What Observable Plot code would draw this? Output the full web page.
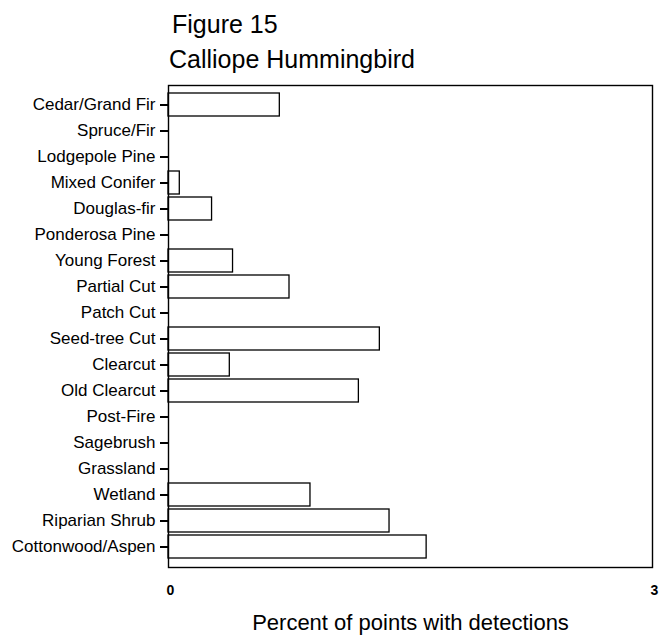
<!DOCTYPE html>
<html>
<head>
<meta charset="utf-8">
<script src="https://cdn.jsdelivr.net/npm/d3@7"></script>
<script src="https://cdn.jsdelivr.net/npm/@observablehq/plot@0.6"></script>
<style>
  html, body { margin: 0; padding: 0; background: #fff; }
  body { width: 663px; height: 638px; overflow: hidden; font-family: "Liberation Sans", Arial, sans-serif; color: #000; }
  #head { position: relative; height: 80px; }
  #fig, #title { position: absolute; font-size: 25px; line-height: 1; white-space: nowrap; }
  #fig { left: 172px; top: 12px; }
  #title { left: 169px; top: 47px; }
</style>
</head>
<body>
<div id="head"><div id="fig"></div><div id="title"></div></div>
<div id="chart"></div>
<script>
const figureLabel = "Figure 15";
const chartTitle = "Calliope Hummingbird";
const xLabel = "Percent of points with detections";
const habitats = ["Cedar/Grand Fir","Spruce/Fir","Lodgepole Pine","Mixed Conifer","Douglas-fir","Ponderosa Pine","Young Forest","Partial Cut","Patch Cut","Seed-tree Cut","Clearcut","Old Clearcut","Post-Fire","Sagebrush","Grassland","Wetland","Riparian Shrub","Cottonwood/Aspen"];
const percents = [0.69,0,0,0.07,0.27,0,0.40,0.75,0,1.31,0.38,1.18,0,0,0,0.88,1.37,1.60];
const xTicks = [0, 3];

document.getElementById("fig").textContent = figureLabel;
document.getElementById("title").textContent = chartTitle;

const data = habitats.map((h, i) => ({habitat: h, value: percents[i]}));

const chart = Plot.plot({
  width: 663,
  height: 558,
  marginTop: 5,
  marginBottom: 71,
  marginLeft: 168,
  marginRight: 11,
  style: {fontFamily: "'Liberation Sans', Arial, sans-serif", color: "#000", background: "#fff", overflow: "visible"},
  x: {domain: [0, 3]},
  y: {domain: habitats, paddingInner: 0.1, paddingOuter: 0.05},
  marks: [
    Plot.barX(data.filter(d => d.value > 0), {x: "value", y: "habitat", fill: "white", stroke: "black", strokeWidth: 1.3}),
    Plot.frame({stroke: "black", strokeWidth: 1.4}),
    Plot.axisY({tickSize: 8, strokeWidth: 2, tickPadding: 5, fontSize: 17, label: null}),
    Plot.axisX({ticks: xTicks, tickFormat: "d", tickSize: 0, tickPadding: 18, fontSize: 14, fontWeight: "bold", dx: 2, label: null}),
    Plot.text([xLabel], {frameAnchor: "bottom", dy: 62, fontSize: 22, text: d => d})
  ]
});
document.getElementById("chart").appendChild(chart);
</script>
</body>
</html>
